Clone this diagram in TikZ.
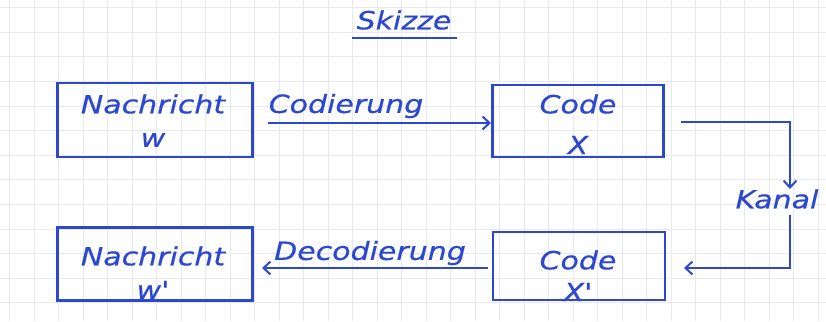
\documentclass[tikz,border=0pt]{standalone}
\usepackage{fontspec}
\setmainfont{DejaVu Sans}
\newfontfamily\handfont[FakeStretch=1.2,FakeBold=0.6]{DejaVu Sans}
\usetikzlibrary{arrows.meta}
\definecolor{ink}{RGB}{45,72,208}
\definecolor{gridc}{RGB}{232,233,238}
\tikzset{
  box/.style={draw=ink, line width=2.2pt, inner sep=0pt},
  lbl/.style={text=ink, font=\handfont\fontsize{25}{27}\selectfont\itshape, inner sep=0pt},
  conn/.style={draw=ink, line width=2pt},
  arr/.style={conn, -{Straight Barb[length=7pt,width=13pt,line width=2pt]}},
}
\begin{document}
\begin{tikzpicture}[x=1pt,y=-1pt]
\useasboundingbox (0,0) rectangle (826,321);
\fill[white] (0,0) rectangle (826,321);
% grid paper
\foreach \i in {0,...,33} {\draw[gridc, line width=0.7pt] ({9.5+24.5*\i},0) -- ({9.5+24.5*\i},321);}
\foreach \j in {0,...,13} {\draw[gridc, line width=0.7pt] (0,{7.5+24.6*\j}) -- (826,{7.5+24.6*\j});}
% title
\node[lbl] (title) at (404,20) {Skizze};
\draw[conn] (352,38) -- (457,38);
% boxes
\node[box, minimum width=195pt, minimum height=74pt] (n1) at (155,120) {};
\node[box, minimum width=171pt, minimum height=72pt] (c1) at (578,121) {};
\node[box, minimum width=195pt, minimum height=73pt] (n2) at (155,264) {};
\node[box, minimum width=172pt, minimum height=68pt] (c2) at (579,266) {};
% box texts
\node[lbl] (n1a) at (153,104) {Nachricht};
\node[lbl] (n1b) at (153,140) {w};
\node[lbl] (c1a) at (578,104) {Code};
\node[lbl] (c1b) at (578,145) {X};
\node[lbl] (n2a) at (153,256) {Nachricht};
\node[lbl] (n2b) at (153,290) {w'};
\node[lbl] (c2a) at (578,260) {Code};
\node[lbl] (c2b) at (578,292) {X'};
% Codierung arrow
\coordinate (a1s) at (268,123);
\coordinate (a1e) at (491,123);
\draw[arr] (a1s) -- (a1e);
\node[lbl] (cod) at (346,106) {Codierung};
% Kanal
\node[lbl] (kanal) at (777,199) {Kanal};
\coordinate (k1) at (681,122);
\coordinate (k2) at (790,122);
\draw[arr] (k1) -- (k2) -- (790,189);
\coordinate (k3) at (790,215);
\coordinate (k4) at (684,268);
\draw[arr] (k3) |- (k4);
% Decodierung arrow
\coordinate (d1s) at (488,268);
\coordinate (d1e) at (262,268);
\draw[arr] (d1s) -- (d1e);
\node[lbl] (dec) at (370,253) {Decodierung};
\end{tikzpicture}
\end{document}
